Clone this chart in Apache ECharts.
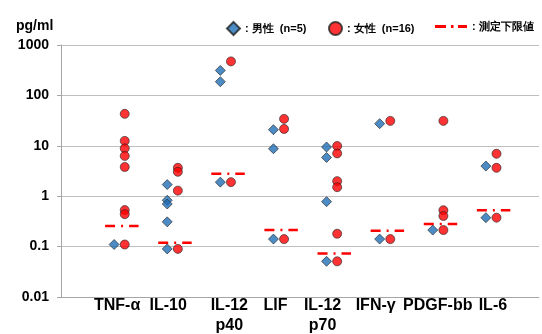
<!DOCTYPE html>
<html>
<head>
<meta charset="utf-8">
<script src="https://cdn.jsdelivr.net/npm/echarts@6/dist/echarts.min.js"></script>
<style>
  html, body { margin: 0; padding: 0; background: #fff; }
  #chart { width: 542px; height: 334px; }
</style>
</head>
<body>
<div id="chart"></div>
<script>
// categories on the x axis (1..8)
const categories = ['TNF-α', 'IL-10', 'IL-12\np40', 'LIF', 'IL-12\np70', 'IFN-γ', 'PDGF-bb', 'IL-6']

// values, one list per category (pg/ml)
const maleValues = [
  [0.11],
  [1.7, 0.83, 0.70, 0.31, 0.09],
  [313, 187, 1.9],
  [20.9, 8.75, 0.141],
  [9.46, 5.87, 0.78, 0.051],
  [27.5, 0.141],
  [0.213],
  [3.96, 0.375],
]
const femaleValues = [
  [43, 12.5, 8.9, 6.3, 3.8, 0.53, 0.44, 0.11],
  [3.66, 3.05, 1.29, 0.09],
  [473, 1.9],
  [34.2, 21.6, 0.141],
  [9.9, 7.06, 1.99, 1.51, 0.18, 0.051],
  [31.2, 0.141],
  [31.2, 0.526, 0.405, 0.213],
  [6.96, 3.66, 0.375],
]
// lower detection limit per category
const limitValues = [0.256, 0.119, 2.8, 0.213, 0.073, 0.206, 0.28, 0.526]

const yTickLabels = ['0.01', '0.1', '1', '10', '100', '1000']

// small horizontal nudges of the category labels (px), as in the original
const labelShift = [3, 1, 9, 2, -4, -4, 5, 7]

const FONT = 'Liberation Sans, Arial, sans-serif'
const maleName = '男性'
const femaleName = '女性'
const limitName = '測定下限値'

const maleData = []
maleValues.forEach((vals, i) => vals.forEach(v => maleData.push([i + 1, v])))
const femaleData = []
femaleValues.forEach((vals, i) => vals.forEach(v => femaleData.push([i + 1.2, v])))

// one short dash-dot line per category
const limitSeries = limitValues.map((v, i) => ({
  name: limitName,
  type: 'line',
  data: [[i + 1 - 0.17, v], [i + 1 + 0.46, v]],
  symbol: 'none',
  silent: true,
  z: 1,
  lineStyle: { color: '#FF0000', width: 2.5, type: [10, 6, 2, 6], cap: 'butt' },
}))

// rich styles that shift each label sideways
const labelRich = {}
labelShift.forEach((s, i) => {
  labelRich['c' + i] = {
    fontFamily: FONT,
    fontSize: 16,
    fontWeight: 'bold',
    color: '#000',
    lineHeight: 20,
    padding: s >= 0 ? [0, 0, 0, 2 * s] : [0, -2 * s, 0, 0],
  }
})

const legendText = { fontFamily: FONT, fontSize: 11, fontWeight: 'bold', color: '#000' }

const chart = echarts.init(document.getElementById('chart'), null, { renderer: 'canvas' })

chart.setOption({
  animation: false,
  textStyle: { fontFamily: FONT },
  title: {
    text: 'pg/ml',
    left: 11,
    top: 14,
    textStyle: { fontFamily: FONT, fontSize: 14, fontWeight: 'bold', color: '#000' },
  },
  legend: [
    {
      data: [{ name: maleName, icon: 'diamond' }],
      left: 221, top: 16, itemWidth: 13, itemHeight: 13, itemGap: 0,
      formatter: n => ': ' + n + '  (n=5)',
      textStyle: legendText,
    },
    {
      data: [{ name: femaleName, icon: 'circle' }],
      left: 323, top: 16, itemWidth: 13, itemHeight: 13, itemGap: 0,
      formatter: n => ': ' + n + '  (n=16)',
      textStyle: legendText,
    },
    {
      data: [{
        name: limitName,
        icon: 'path://M0,0H11V3H0Z M16,0H18.5V3H16Z M23,0H32V3H23Z',
        itemStyle: { color: '#FF0000' },
      }],
      left: 430, top: 16, itemWidth: 32, itemHeight: 14, itemGap: 0,
      formatter: n => ': ' + n,
      textStyle: legendText,
    },
  ],
  grid: { left: 61, right: 3, top: 45, bottom: 37, outerBoundsMode: 'none', containLabel: false },
  xAxis: {
    type: 'value',
    min: 0,
    max: 9,
    interval: 1,
    splitLine: { show: false },
    axisTick: { show: false },
    axisLine: { lineStyle: { color: '#A6A6A6', width: 1 } },
    axisLabel: {
      margin: -1,
      fontFamily: FONT,
      fontSize: 16,
      fontWeight: 'bold',
      color: '#000',
      lineHeight: 20,
      showMinLabel: true,
      showMaxLabel: true,
      hideOverlap: false,
      rich: labelRich,
      formatter: v => {
        const name = categories[v - 1]
        if (!name) return ''
        return name.split('\n').map(t => '{c' + (v - 1) + '|' + t + '}').join('\n')
      },
    },
  },
  yAxis: {
    type: 'log',
    logBase: 10,
    min: 0.01,
    max: 1000,
    axisLine: { show: true, lineStyle: { color: '#A6A6A6', width: 1 } },
    axisTick: { show: true, length: 4, lineStyle: { color: '#A6A6A6' } },
    splitLine: { lineStyle: { color: '#BFBFBF', width: 1 } },
    axisLabel: {
      margin: 12,
      fontFamily: FONT,
      fontSize: 14,
      fontWeight: 'bold',
      color: '#000',
      formatter: v => yTickLabels[Math.round(Math.log10(v)) + 2] || '',
    },
  },
  series: [
    ...limitSeries,
    {
      name: maleName,
      type: 'scatter',
      symbol: 'diamond',
      symbolSize: 10,
      z: 3,
      itemStyle: { color: '#1F6EB5', borderColor: '#222', borderWidth: 0.8 },
      data: maleData,
    },
    {
      name: femaleName,
      type: 'scatter',
      symbol: 'circle',
      symbolSize: 9,
      z: 4,
      itemStyle: { color: '#FF0000', borderColor: '#222', borderWidth: 0.8 },
      data: femaleData,
    },
  ],
})
</script>
</body>
</html>
